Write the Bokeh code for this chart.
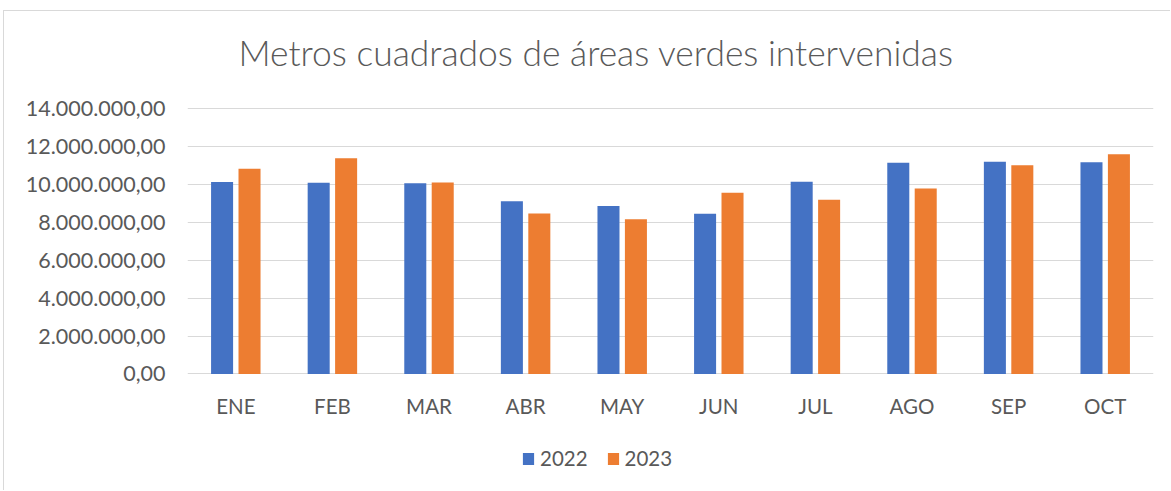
from bokeh.plotting import figure
from bokeh.models import Range1d, Legend, LegendItem, ColumnDataSource, FixedTicker, Label
from bokeh.transform import dodge
from bokeh.core.properties import value
from bokeh.embed import file_html
from bokeh.resources import INLINE

# ---- data ----
months = ["ENE", "FEB", "MAR", "ABR", "MAY", "JUN", "JUL", "AGO", "SEP", "OCT"]
v2022 = [10130000, 10090000, 10070000, 9110000, 8860000, 8460000, 10150000, 11150000, 11200000, 11180000]
v2023 = [10830000, 11380000, 10110000, 8470000, 8170000, 9570000, 9200000, 9790000, 11010000, 11600000]
series_names = ["2022", "2023"]
y_ticks = [0, 2000000, 4000000, 6000000, 8000000, 10000000, 12000000, 14000000]
y_tick_labels = ["0,00", "2.000.000,00", "4.000.000,00", "6.000.000,00", "8.000.000,00",
                 "10.000.000,00", "12.000.000,00", "14.000.000,00"]
title_text = "Metros cuadrados de áreas verdes intervenidas"

FONT = "Lato"
FS = "20.5px"
GRAY = "#595959"
GRID = "#d9d9d9"

src = ColumnDataSource(dict(month=months, v2022=v2022, v2023=v2023,
                            label_y=[-1710000] * len(months)))

# the frame covers the whole canvas height so that title, month labels and legend sit inside it
p = figure(x_range=months, y_range=Range1d(-6211000, 19135000), width=1167, height=480,
           output_backend="svg", toolbar_location=None,
           min_border_left=183, min_border_right=18, min_border_top=0, min_border_bottom=0)
p.outline_line_color = None
p.styles = {"margin-left": "3px", "margin-top": "10px",
            "border-left": "1px solid #d9d9d9", "border-top": "1px solid #d9d9d9"}

r1 = p.vbar(x=dodge("month", -0.142, range=p.x_range), top="v2022", width=0.228, source=src,
            fill_color="#4472C4", line_color=None)
r2 = p.vbar(x=dodge("month", 0.142, range=p.x_range), top="v2023", width=0.228, source=src,
            fill_color="#ED7D31", line_color=None)

# category labels
p.text(x="month", y="label_y", text="month", source=src, text_align="center",
       text_baseline="middle", text_font=value(FONT), text_font_size=value(FS), text_color=GRAY)

# axes
p.xaxis.visible = False
p.yaxis.ticker = FixedTicker(ticks=y_ticks)
p.yaxis.major_label_overrides = {t: l for t, l in zip(y_ticks, y_tick_labels)}
p.yaxis.axis_line_color = None
p.yaxis.major_tick_line_color = None
p.yaxis.minor_tick_line_color = None
p.yaxis.major_tick_out = 0
p.yaxis.major_tick_in = 0
p.yaxis.minor_tick_out = 0
p.yaxis.major_label_standoff = 22
p.yaxis.major_label_text_font = FONT
p.yaxis.major_label_text_font_size = "21.5px"
p.yaxis.major_label_text_color = GRAY

p.xgrid.grid_line_color = None
p.ygrid.ticker = FixedTicker(ticks=y_ticks)
p.ygrid.grid_line_color = GRID
p.ygrid.grid_line_width = 1

# chart title
p.add_layout(Label(x=0.528, y=16950000, text=title_text, text_align="left",
                   text_baseline="alphabetic", text_font="Lato Light, Lato",
                   text_font_size="35.4px", text_color=GRAY))

legend = Legend(items=[LegendItem(label=series_names[0], renderers=[r1]),
                       LegendItem(label=series_names[1], renderers=[r2])],
                orientation="horizontal", location=(334, 21))
legend.label_text_font = FONT
legend.label_text_font_size = FS
legend.label_text_color = GRAY
legend.glyph_width = 14
legend.glyph_height = 15
legend.label_standoff = 5
legend.spacing = 18
legend.padding = 0
legend.margin = 0
legend.border_line_color = None
legend.background_fill_alpha = 0
p.add_layout(legend)

open("out.html", "w").write(file_html(p, INLINE))
